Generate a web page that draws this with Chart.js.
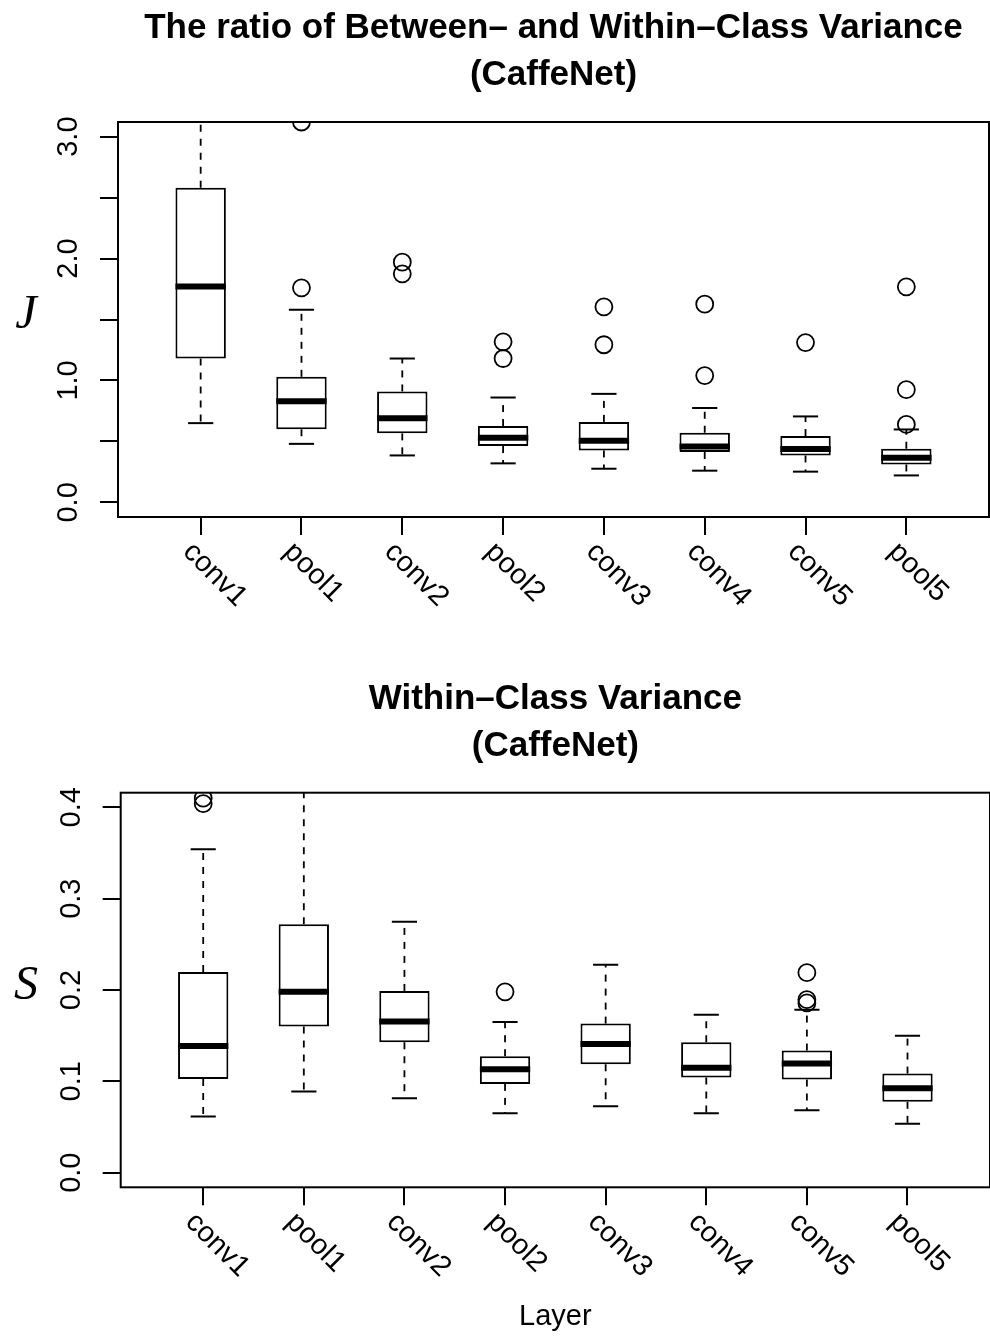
<!DOCTYPE html>
<html>
<head>
<meta charset="utf-8">
<title>Between- and Within-Class Variance (CaffeNet)</title>
<script src="https://cdn.jsdelivr.net/npm/chart.js@4.4.0/dist/chart.umd.min.js"></script>
<style>
  html, body { margin: 0; padding: 0; background: #fff; }
  #page { position: relative; width: 990px; height: 1338px; overflow: hidden; }
  canvas { position: absolute; left: 0; }
  #jChart { top: 0; }
  #sChart { top: 660px; }
</style>
</head>
<body>
<div id="page">
  <canvas id="jChart" width="990" height="660"></canvas>
  <canvas id="sChart" width="990" height="678"></canvas>
</div>
<script>
// layers on the x axis
const layers = ['conv1', 'pool1', 'conv2', 'pool2', 'conv3', 'conv4', 'conv5', 'pool5'];

// J: ratio of between- and within-class variance (whisker ends, quartiles, median)
const jLow  = [0.65, 0.48, 0.385, 0.32, 0.276, 0.26, 0.252, 0.221];
const jQ1   = [1.18, 0.60, 0.566, 0.462, 0.426, 0.413, 0.385, 0.311];
const jMed  = [1.77, 0.83, 0.69, 0.53, 0.506, 0.459, 0.438, 0.366];
const jQ3   = [2.58, 1.03, 0.91, 0.626, 0.66, 0.571, 0.544, 0.44];
const jHigh = [3.40, 1.58, 1.18, 0.86, 0.89, 0.774, 0.705, 0.598];
const jOutliers = [[], [1.76, 3.12], [1.97, 1.875], [1.317, 1.18], [1.604, 1.293], [1.626, 1.04], [1.311], [1.768, 0.924, 0.639]];
const jTicks = [0, 0.5, 1, 1.5, 2, 2.5, 3];
const jTickLabels = ['0.0', '', '1.0', '', '2.0', '', '3.0'];

// S: within-class variance
const sLow  = [0.0615, 0.089, 0.0816, 0.0652, 0.0728, 0.0652, 0.0684, 0.0535];
const sQ1   = [0.1027, 0.160, 0.1428, 0.0972, 0.1187, 0.1042, 0.102, 0.0776];
const sMed  = [0.1388, 0.198, 0.1654, 0.1133, 0.141, 0.1148, 0.1195, 0.0925];
const sQ3   = [0.2197, 0.272, 0.199, 0.1275, 0.1632, 0.1428, 0.1337, 0.1085];
const sHigh = [0.354, 0.44, 0.2747, 0.165, 0.2277, 0.173, 0.1785, 0.150];
const sOutliers = [[0.41, 0.404], [], [], [0.198], [], [], [0.219, 0.1894, 0.1858], []];
const sTicks = [0, 0.1, 0.2, 0.3, 0.4];
const sTickLabels = ['0.0', '0.1', '0.2', '0.3', '0.4'];

const jTitle = ['The ratio of Between\u2013 and Within\u2013Class Variance', '(CaffeNet)'];
const sTitle = ['Within\u2013Class Variance', '(CaffeNet)'];
const xTitle = 'Layer';

// whiskers, caps and medians, drawn on top of the bar boxes
const rBoxPlot = {
  id: 'rBoxPlot',
  afterDatasetsDraw(chart, args, opts) {
    const { ctx, chartArea: a, scales: { y } } = chart;
    const bars = chart.getDatasetMeta(0).data;
    const seg = (x1, y1, x2, y2) => {
      ctx.beginPath(); ctx.moveTo(x1, y1); ctx.lineTo(x2, y2); ctx.stroke();
    };
    ctx.save();
    ctx.beginPath();
    ctx.rect(a.left, a.top, a.right - a.left, a.bottom - a.top);
    ctx.clip();
    ctx.strokeStyle = '#000';
    ctx.lineCap = 'butt';
    bars.forEach((bar, i) => {
      const half = bar.width / 2;
      const yLo = y.getPixelForValue(opts.low[i]);
      const yHi = y.getPixelForValue(opts.high[i]);
      ctx.lineWidth = 1.8;
      ctx.setLineDash([7, 7]);
      seg(bar.x, y.getPixelForValue(opts.q3[i]), bar.x, yHi);
      seg(bar.x, y.getPixelForValue(opts.q1[i]), bar.x, yLo);
      ctx.setLineDash([]);
      ctx.lineWidth = 2;
      seg(bar.x - half / 2, yHi, bar.x + half / 2, yHi);
      seg(bar.x - half / 2, yLo, bar.x + half / 2, yLo);
      ctx.lineWidth = 6;
      const yMed = y.getPixelForValue(opts.med[i]);
      seg(bar.x - half, yMed, bar.x + half, yMed);
    });
    ctx.restore();
  }
};

// R style frame, rotated tick labels, titles
const rText = {
  id: 'rText',
  afterDraw(chart, args, opts) {
    const { ctx, chartArea: a, scales: { x, y } } = chart;
    ctx.save();
    ctx.strokeStyle = '#000';
    ctx.lineWidth = 2;
    ctx.strokeRect(a.left, a.top, a.right - a.left, a.bottom - a.top);
    ctx.fillStyle = '#000';

    const cx = (a.left + a.right) / 2;
    ctx.font = 'bold 35px "Liberation Sans", Arial, sans-serif';
    ctx.textAlign = 'center';
    ctx.textBaseline = 'alphabetic';
    opts.title.forEach((line, k) => {
      ctx.fillText(line, cx, a.top - 37 - (opts.title.length - 1 - k) * 47);
    });

    ctx.font = '29px "Liberation Sans", Arial, sans-serif';
    opts.yTicks.forEach((v, k) => {
      if (!opts.yLabels[k]) return;
      ctx.save();
      ctx.translate(a.left - 41, y.getPixelForValue(v));
      ctx.rotate(-Math.PI / 2);
      ctx.textAlign = 'center';
      ctx.fillText(opts.yLabels[k], 0, 0);
      ctx.restore();
    });

    ctx.font = '29px "Liberation Sans", Arial, sans-serif';
    layers.forEach((name, i) => {
      ctx.save();
      ctx.translate(x.getPixelForValue(i + 1) - 19, a.bottom + 36);
      ctx.rotate(Math.PI / 4);
      ctx.textAlign = 'left';
      ctx.fillText(name, 0, 0);
      ctx.restore();
    });

    ctx.font = 'italic 48px "Liberation Serif", "Times New Roman", serif';
    ctx.textAlign = 'center';
    ctx.fillText(opts.yTitle, 26, (a.top + a.bottom) / 2 + 8.5);

    if (opts.xTitle) {
      ctx.font = '29px "Liberation Sans", Arial, sans-serif';
      ctx.fillText(opts.xTitle, cx, a.bottom + 138);
    }
    ctx.restore();
  }
};

const makeBoxChart = (canvasId, cfg) => {
  const ctx = document.getElementById(canvasId).getContext('2d');
  const axisGrid = { display: true, offset: false, drawOnChartArea: false, drawTicks: true, tickLength: 18, color: '#000', lineWidth: 2 };
  return new Chart(ctx, {
    type: 'bar',
    data: {
      datasets: [{
        label: 'box',
        data: layers.map((l, i) => ({ x: i + 1, y: [cfg.q1[i], cfg.q3[i]] })),
        backgroundColor: '#fff',
        borderColor: '#000',
        borderWidth: 2,
        borderSkipped: false,
        barPercentage: 0.5,
        categoryPercentage: 1.0
      }, {
        type: 'scatter',
        label: 'outliers',
        data: cfg.outliers.flatMap((vals, i) => vals.map(v => ({ x: i + 1, y: v }))),
        pointStyle: 'circle',
        pointRadius: 8.5,
        pointBorderWidth: 1.8,
        pointBorderColor: '#000',
        pointBackgroundColor: 'rgba(0,0,0,0)'
      }]
    },
    options: {
      responsive: false,
      devicePixelRatio: 1,
      animation: false,
      events: [],
      layout: { autoPadding: false, padding: cfg.padding },
      plugins: {
        legend: { display: false },
        tooltip: { enabled: false },
        rBoxPlot: { low: cfg.low, q1: cfg.q1, med: cfg.med, q3: cfg.q3, high: cfg.high },
        rText: { title: cfg.title, yTicks: cfg.yTicks, yLabels: cfg.yLabels, yTitle: cfg.yTitle, xTitle: cfg.xTitle }
      },
      scales: {
        x: {
          type: 'linear', min: 0.18, max: 8.82, offset: false,
          afterBuildTicks: s => { s.ticks = layers.map((l, i) => ({ value: i + 1 })); },
          ticks: { display: false },
          border: { display: false },
          grid: axisGrid
        },
        y: {
          type: 'linear', min: cfg.yMin, max: cfg.yMax,
          afterBuildTicks: s => { s.ticks = cfg.yTicks.map(v => ({ value: v })); },
          ticks: { display: false },
          border: { display: false },
          grid: axisGrid
        }
      }
    },
    plugins: [rBoxPlot, rText]
  });
};

makeBoxChart('jChart', {
  low: jLow, q1: jQ1, med: jMed, q3: jQ3, high: jHigh, outliers: jOutliers,
  yMin: -0.12, yMax: 3.12, yTicks: jTicks, yLabels: jTickLabels,
  title: jTitle, yTitle: 'J', xTitle: null,
  padding: { left: 100, right: 1, top: 122, bottom: 125 }
});

makeBoxChart('sChart', {
  low: sLow, q1: sQ1, med: sMed, q3: sQ3, high: sHigh, outliers: sOutliers,
  yMin: -0.016, yMax: 0.416, yTicks: sTicks, yLabels: sTickLabels,
  title: sTitle, yTitle: 'S', xTitle: xTitle,
  padding: { left: 102.7, right: -1, top: 132.7, bottom: 132.7 }
});
</script>
</body>
</html>
